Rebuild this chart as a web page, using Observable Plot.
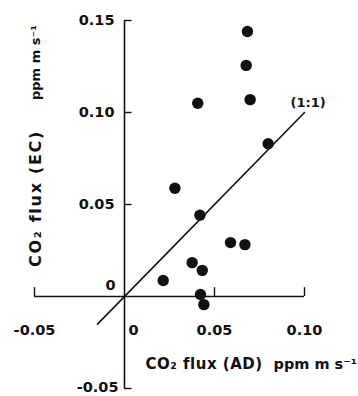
<!DOCTYPE html>
<html>
<head>
<meta charset="utf-8">
<script src="https://cdn.jsdelivr.net/npm/d3@7"></script>
<script src="https://cdn.jsdelivr.net/npm/@observablehq/plot@0.6"></script>
<style>
  html, body { margin: 0; padding: 0; background: #fff; }
  #chart svg { display: block; }
</style>
</head>
<body>
<div id="chart"></div>
<script>
// CO2 flux (AD) vs CO2 flux (EC), ppm m s^-1
const fluxAD = [0.0683, 0.0676, 0.0698, 0.0407, 0.0798, 0.0280, 0.0419, 0.0589, 0.0669, 0.0376, 0.0432, 0.0215, 0.0422, 0.0441];
const fluxEC = [0.1440, 0.1256, 0.1070, 0.1050, 0.0830, 0.0588, 0.0442, 0.0293, 0.0282, 0.0184, 0.0142, 0.0087, 0.0011, -0.0044];
const oneToOne = [-0.015, 0.10];
const xTicks = [-0.05, 0.05, 0.10];
const xTickLabels = ["-0.05", "0.05", "0.10"];
const yTicks = [0.05, 0.10, 0.15];
const yTickLabels = ["0.05", "0.10", "0.15"];
const yNegTick = [-0.05];
const yNegLabel = ["-0.05"];
const zeroLabel = ["0"];
const xTitleA = ["CO\u2082 flux (AD)"];
const xTitleB = ["ppm m s\u207B\u00B9"];
const yTitleA = ["CO\u2082 flux (EC)"];
const yTitleB = ["ppm m s\u207B\u00B9"];
const lineLabel = ["(1:1)"];

const points = fluxAD.map((x, i) => ({x, y: fluxEC[i]}));
const font = "DejaVu Sans, sans-serif";

const chart = Plot.plot({
  width: 358,
  height: 396,
  marginLeft: 34,
  marginRight: 54,
  marginTop: 20,
  marginBottom: 8,
  style: {fontFamily: font, fontSize: "14px", fontWeight: "bold", background: "#fff", color: "#111"},
  x: {domain: [-0.05, 0.10], axis: null},
  y: {domain: [-0.05, 0.15], axis: null},
  marks: [
    // axes crossing at the origin
    Plot.ruleY([0], {x1: -0.05, x2: 0.10, stroke: "#111", strokeWidth: 1.6}),
    Plot.ruleX([0], {y1: -0.05, y2: 0.15, stroke: "#111", strokeWidth: 1.6}),
    // x ticks (pointing up) and y ticks (pointing right)
    Plot.ruleX(xTicks, {x: d => d, y1: 0, y2: 0.0048, stroke: "#111", strokeWidth: 1.4}),
    Plot.ruleY(yTicks.concat(yNegTick), {y: d => d, x1: 0, x2: 0.0042, stroke: "#111", strokeWidth: 1.4}),
    // tick labels
    Plot.text(xTicks, {x: d => d, y: 0, text: (d, i) => xTickLabels[i], dy: 34, fontSize: 14.5, fill: "#111"}),
    Plot.text(zeroLabel, {x: 0, y: 0, text: d => d, dx: 9, dy: 34, fontSize: 14.5, fill: "#111"}),
    Plot.text(yTicks, {x: 0, y: d => d, text: (d, i) => yTickLabels[i], textAnchor: "end", dx: -10, fontSize: 14.5, fill: "#111"}),
    Plot.text(zeroLabel, {x: 0, y: 0, text: d => d, textAnchor: "end", dx: -9, dy: -11, fontSize: 14.5, fill: "#111"}),
    Plot.text(yNegTick, {x: 0, y: d => d, text: (d, i) => yNegLabel[i], textAnchor: "end", dx: -6, dy: -1, fontSize: 14.5, fill: "#111"}),
    // 1:1 line
    Plot.line(oneToOne.map(v => [v, v]), {x: d => d[0], y: d => d[1], stroke: "#111", strokeWidth: 1.6}),
    Plot.text(lineLabel, {x: oneToOne[1], y: oneToOne[1], text: d => d, textAnchor: "start", dx: -14, dy: -10, fontSize: 13, fill: "#111"}),
    // data points
    Plot.dot(points, {x: "x", y: "y", r: 5.7, fill: "#111", stroke: "none"}),
    // axis titles
    Plot.text(xTitleA, {x: 0, y: 0, text: d => d, textAnchor: "start", dx: 21, dy: 68, fontSize: 15, fill: "#111"}),
    Plot.text(xTitleB, {x: 0, y: 0, text: d => d, textAnchor: "start", dx: 149, dy: 68, fontSize: 14.5, fill: "#111"}),
    Plot.text(yTitleA, {frameAnchor: "left", textAnchor: "middle", text: d => d, rotate: -90, dx: 1, dy: -6, fontSize: 16, fill: "#111"}),
    Plot.text(yTitleB, {frameAnchor: "left", textAnchor: "middle", text: d => d, rotate: -90, dx: 1, dy: -142, fontSize: 13, fill: "#111"})
  ]
});
document.getElementById("chart").appendChild(chart);
const texts = Array.from(chart.querySelectorAll("text"));
const byContent = s => texts.filter(t => t.textContent === s);
// letter spacing of the titles, as in the reference lettering
byContent(yTitleA[0]).forEach(t => t.setAttribute("letter-spacing", "1.7px"));
byContent(xTitleA[0]).forEach(t => t.setAttribute("letter-spacing", "0.5px"));
</script>
</body>
</html>
